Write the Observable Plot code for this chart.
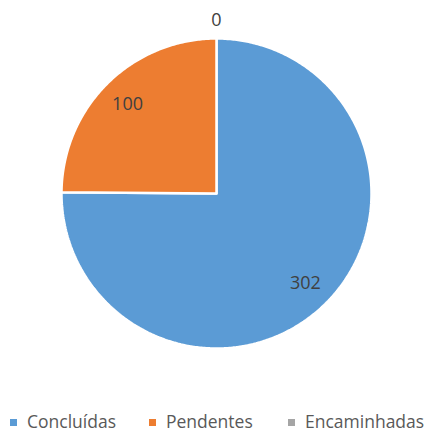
<!DOCTYPE html>
<html><head><meta charset="utf-8">
<script src="https://cdn.jsdelivr.net/npm/d3@7"></script>
<script src="https://cdn.jsdelivr.net/npm/@observablehq/plot@0.6"></script>
<style>
body{margin:0;background:#fff;font-family:"Open Sans",sans-serif;}
#wrap{position:relative;width:436px;height:432px;}
#legend{position:absolute;left:0;top:412px;width:436px;height:19px;font-size:17.5px;line-height:19px;color:#595959;}
#legend i{position:absolute;width:7px;height:7px;top:7px;}
#legend b{position:absolute;top:0;font-weight:normal;white-space:nowrap;}
</style></head>
<body><div id="wrap"><div id="chart"></div><div id="legend"></div></div>
<script>
const categories = ["Concluídas", "Pendentes", "Encaminhadas"];
const values = [302, 100, 0];
const colors = ["#5B9BD5", "#ED7D31", "#A5A5A5"];

const pie = d3.pie().sort(null).value(d => d.value);
const arcs = pie(categories.map((c, i) => ({category: c, value: values[i]})));

// polygon points for each slice (unit circle, angle clockwise from top)
const pts = [];
for (const a of arcs) {
  if (a.endAngle - a.startAngle <= 0) continue;
  const c = a.data.category;
  pts.push({category: c, x: 0, y: 0});
  const n = Math.max(2, Math.ceil((a.endAngle - a.startAngle) / 0.01));
  for (let k = 0; k <= n; k++) {
    const t = a.startAngle + (a.endAngle - a.startAngle) * k / n;
    pts.push({category: c, x: Math.sin(t), y: Math.cos(t)});
  }
  pts.push({category: c, x: 0, y: 0});
}
const labels = arcs.map(a => {
  const m = (a.startAngle + a.endAngle) / 2;
  const r = a.data.value === 0 ? 1.12 : 0.815;
  return {text: String(a.data.value), x: Math.sin(m) * r, y: Math.cos(m) * r};
});

const W = 436, H = 392;
const chart = Plot.plot({
  width: W, height: H,
  marginLeft: 61, marginRight: 65, marginTop: 38, marginBottom: 44,
  x: {domain: [-1, 1], axis: null},
  y: {domain: [-1, 1], axis: null},
  color: {domain: categories, range: colors},
  style: {background: "#fff", fontFamily: "Open Sans, sans-serif"},
  marks: [
    Plot.line(pts, {x: "x", y: "y", z: "category", fill: "category", stroke: "white", strokeWidth: 2.5, strokeLinejoin: "miter"}),
    Plot.text(labels, {x: "x", y: "y", text: "text", fill: "#404040", fontSize: 18})
  ]
});
document.getElementById("chart").appendChild(chart);

const leg = document.getElementById("legend");
const sq = [10, 149, 288];
categories.forEach((c, i) => {
  const s = document.createElement("i");
  s.style.left = sq[i] + "px";
  s.style.background = colors[i];
  leg.appendChild(s);
  const t = document.createElement("b");
  t.style.left = (sq[i] + 17) + "px";
  t.textContent = c;
  leg.appendChild(t);
});
</script></body></html>
